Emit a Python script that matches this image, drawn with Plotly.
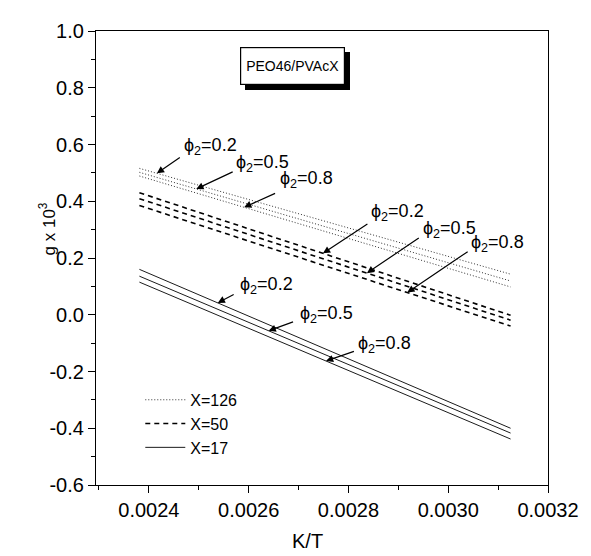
import plotly.graph_objects as go
import numpy as np

# ---- data ----
KT = [0.002381, 0.003125]                      # K/T range of curves (1/420 .. 1/320)
phi_labels = ["0.2", "0.5", "0.8"]
X126 = {"0.2": [0.516, 0.143], "0.5": [0.502, 0.119], "0.8": [0.489, 0.098]}
X50 = {"0.2": [0.430, -0.002], "0.5": [0.409, -0.019], "0.8": [0.385, -0.040]}
X17 = {"0.2": [0.160, -0.400], "0.5": [0.136, -0.417], "0.8": [0.115, -0.438]}
series_names = ["X=126", "X=50", "X=17"]
x_ticks = [0.0024, 0.0026, 0.0028, 0.0030, 0.0032]
y_ticks = [-0.6, -0.4, -0.2, 0.0, 0.2, 0.4, 0.6, 0.8, 1.0]

# label layout (data coords): arrow head x, arrow tail (x,y), text left x, text y
lab_head_x = {"X=126": [0.002416, 0.002495, 0.002591],
              "X=50": [0.002749, 0.002837, 0.002918],
              "X=17": [0.002538, 0.002640, 0.002755]}
lab_tail = {"X=126": [(0.002465, 0.558), (0.002571, 0.506), (0.002656, 0.430)],
            "X=50": [(0.002841, 0.323), (0.002944, 0.274), (0.003042, 0.226)],
            "X=17": [(0.002573, 0.074), (0.002692, -0.023), (0.002814, -0.127)]}
lab_text = {"X=126": [(0.002466, 0.592), (0.002570, 0.533), (0.002659, 0.478)],
            "X=50": [(0.002842, 0.361), (0.002945, 0.302), (0.003041, 0.250)],
            "X=17": [(0.002578, 0.102), (0.002698, 0.001), (0.002815, -0.106)]}

FONT = "Liberation Sans, Arial, Helvetica, sans-serif"
styles = {"X=126": dict(dash="1px,2px", width=1, color="#333"),
          "X=50": dict(dash="5px,4px", width=1.6, color="black"),
          "X=17": dict(dash="solid", width=0.9, color="black")}
groups = {"X=126": X126, "X=50": X50, "X=17": X17}

fig = go.Figure()
for name in series_names:
    for i, p in enumerate(phi_labels):
        fig.add_trace(go.Scatter(x=KT, y=groups[name][p], mode="lines",
                                 line=styles[name], name=name,
                                 legendgroup=name, showlegend=(i == 0)))

ann = []
for name in series_names:
    for i, p in enumerate(phi_labels):
        hx = lab_head_x[name][i]
        hy = float(np.interp(hx, KT, groups[name][p]))
        tx, ty = lab_tail[name][i]
        ann.append(dict(x=hx, y=hy, ax=tx, ay=ty, xref="x", yref="y", axref="x", ayref="y",
                        text="", showarrow=True, arrowhead=2, arrowsize=1.2,
                        arrowwidth=1.2, arrowcolor="black", standoff=0, startstandoff=0))
        lx, ly = lab_text[name][i]
        ann.append(dict(x=lx, y=ly, xref="x", yref="y", xanchor="left", yanchor="middle",
                        text="ϕ<sub>2</sub>=" + p, showarrow=False,
                        font=dict(family=FONT, size=18, color="black")))

# title box with shadow
ann.append(dict(x=0.002688, y=0.878, xref="x", yref="y", text="PEO46/PVAcX", showarrow=False,
                font=dict(family=FONT, size=14, color="black"), bgcolor="black",
                bordercolor="black", borderwidth=1, width=101, height=34,
                xshift=5, yshift=-5))
ann.append(dict(x=0.002688, y=0.878, xref="x", yref="y", text="PEO46/PVAcX", showarrow=False,
                font=dict(family=FONT, size=14, color="black"), bgcolor="white",
                bordercolor="black", borderwidth=1.2, width=101, height=34))
# axis titles
ann.append(dict(x=-0.135, y=0.565, xref="paper", yref="paper", text="g x 10<sup>3</sup>",
                textangle=-90, showarrow=False, font=dict(family=FONT, size=17, color="black")))
ann.append(dict(x=0.468, y=-0.095, xref="paper", yref="paper", text="K/T", yanchor="top",
                showarrow=False, font=dict(family=FONT, size=20, color="black")))

fig.update_layout(
    width=583, height=548,
    margin=dict(l=88, r=35, t=14, b=71),
    paper_bgcolor="white", plot_bgcolor="white",
    font=dict(family=FONT, size=20, color="black"),
    annotations=ann,
    showlegend=True,
    legend=dict(x=0.098, y=0.225, xanchor="left", yanchor="top", bgcolor="rgba(0,0,0,0)",
                font=dict(family=FONT, size=16, color="black"), tracegroupgap=0,
                itemwidth=40),
)
fig.update_xaxes(range=[0.002294, 0.0032], tickvals=x_ticks,
                 ticktext=[f"{v:.4f}" for v in x_ticks],
                 showgrid=False, zeroline=False, showline=True, linecolor="black", linewidth=1.3,
                 mirror=True, ticks="outside", ticklen=7, tickwidth=1.2, tickcolor="black",
                 minor=dict(dtick=0.0001, tick0=0.0024, ticks="outside", ticklen=4,
                            tickwidth=1, tickcolor="black"),
                 tickfont=dict(family=FONT, size=20))
fig.update_yaxes(range=[-0.6, 1.0], tickvals=y_ticks,
                 ticktext=[f"{v:.1f}" for v in y_ticks],
                 showgrid=False, zeroline=False, showline=True, linecolor="black", linewidth=1.3,
                 mirror=True, ticks="outside", ticklen=7, tickwidth=1.2, tickcolor="black",
                 minor=dict(dtick=0.1, tick0=0, ticks="outside", ticklen=4,
                            tickwidth=1, tickcolor="black"),
                 tickfont=dict(family=FONT, size=20))

fig.write_html("out.html")
